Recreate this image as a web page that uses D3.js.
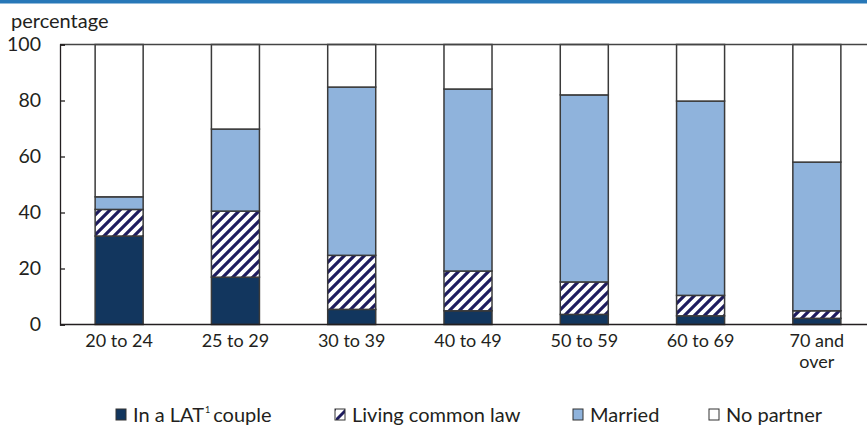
<!DOCTYPE html>
<html>
<head>
<meta charset="utf-8">
<script src="https://cdn.jsdelivr.net/npm/d3@7/dist/d3.min.js"></script>
<style>
  html, body { margin: 0; padding: 0; background: #fff; }
  svg { display: block; }
  text { font-family: Lato, "Open Sans", sans-serif; fill: #231f20; }
</style>
</head>
<body>
<svg id="chart" width="867" height="430"></svg>
<script>
const categories = ["20 to 24", "25 to 29", "30 to 39", "40 to 49", "50 to 59", "60 to 69", "70 and\nover"];
const seriesNames = ["In a LAT couple", "Living common law", "Married", "No partner"];
const lat        = [31.6, 16.9, 5.4, 4.9, 3.6, 3.1, 2.2];
const commonLaw  = [9.5, 23.6, 19.3, 14.2, 11.6, 7.3, 2.7];
const married    = [4.5, 29.3, 60.1, 65.0, 66.8, 69.4, 53.1];
const noPartner  = [54.4, 30.2, 15.2, 15.9, 18.0, 20.2, 42.0];
const yTicks = [0, 20, 40, 60, 80, 100];

const svg = d3.select("#chart");

// defs: hatch pattern
const defs = svg.append("defs");
const pat = defs.append("pattern")
  .attr("id", "hatch").attr("patternUnits", "userSpaceOnUse")
  .attr("width", 10).attr("height", 10);
pat.append("rect").attr("width", 10).attr("height", 10).attr("fill", "#fff");
pat.append("path")
  .attr("d", "M-2,12 L12,-2 M-2,2 L2,-2 M8,12 L12,8")
  .attr("stroke", "#1e1c5e").attr("stroke-width", 3.2);

const legPat = defs.append("pattern")
  .attr("id", "hatchLeg").attr("patternUnits", "userSpaceOnUse")
  .attr("width", 12).attr("height", 12);
legPat.append("rect").attr("width", 12).attr("height", 12).attr("fill", "#fff");
legPat.append("path").attr("d", "M-1,13 L13,-1").attr("stroke", "#1e1c5e").attr("stroke-width", 3);

// top blue rule
svg.append("rect").attr("x", 0).attr("y", 0).attr("width", 867).attr("height", 3.5).attr("fill", "#2878b8");

const x = d3.scaleBand().domain(categories).range([61, 875]).paddingInner(0.587).paddingOuter(0.2935).align(0.5);
const y = d3.scaleLinear().domain([0, 100]).range([324.5, 44.5]);

const fills = ["#12365e", "url(#hatch)", "#8fb3dc", "#ffffff"];
const data = categories.map((c, i) => ({ cat: c, vals: [lat[i], commonLaw[i], married[i], noPartner[i]] }));
const stack = d3.stack().keys([0, 1, 2, 3]).value((d, k) => d.vals[k]);
const layers = stack(data);

const g = svg.append("g");
layers.forEach((layer, k) => {
  g.selectAll(null).data(layer).enter().append("rect")
    .attr("x", d => x(d.data.cat))
    .attr("width", x.bandwidth())
    .attr("y", d => y(Math.min(d[1], 100)))
    .attr("height", d => y(d[0]) - y(Math.min(d[1], 100)))
    .attr("fill", fills[k])
    .attr("stroke", "#3a3a3a")
    .attr("stroke-width", 1.5);
});

// top line at 100
svg.append("line").attr("x1", 60).attr("x2", 867).attr("y1", y(100)).attr("y2", y(100))
  .attr("stroke", "#444").attr("stroke-width", 1.5);

// Y axis
const yAxis = d3.axisLeft(y).tickValues(yTicks).tickSize(-5).tickPadding(19).tickFormat(d3.format("d"));
const ya = svg.append("g").attr("transform", "translate(60,0)").call(yAxis);
ya.select(".domain").attr("stroke", "#231f20").attr("stroke-width", 1.3);
ya.selectAll(".tick line").attr("stroke", "#231f20").attr("stroke-width", 1.3);
ya.selectAll(".tick text").attr("font-size", 19.5).attr("fill", "#231f20")
  .style("font-family", "Lato, 'Open Sans', sans-serif");

// X baseline
svg.append("line").attr("x1", 60).attr("x2", 867).attr("y1", y(0)).attr("y2", y(0))
  .attr("stroke", "#231f20").attr("stroke-width", 1.3);

// X labels
const xl = svg.append("g");
categories.forEach(c => {
  const lines = c.split("\n");
  lines.forEach((ln, i) => {
    xl.append("text")
      .attr("x", x(c) + x.bandwidth() / 2)
      .attr("y", 347 + i * 20.5)
      .attr("text-anchor", "middle")
      .attr("font-size", 18)
      .text(ln);
  });
});

// y title
svg.append("text").attr("x", 11).attr("y", 28).attr("font-size", 20).text("percentage");

// Legend
const legX = [116, 335, 573, 709];
const legFills = ["#12365e", "url(#hatchLeg)", "#8fb3dc", "#ffffff"];
const leg = svg.append("g");
seriesNames.forEach((s, i) => {
  leg.append("rect").attr("x", legX[i]).attr("y", 409).attr("width", 10).attr("height", 11)
    .attr("fill", legFills[i]).attr("stroke", "#333").attr("stroke-width", 1);
  const t = leg.append("text").attr("x", legX[i] + 17).attr("y", 422).attr("font-size", 20);
  if (i === 0) {
    t.append("tspan").text("In a LAT");
    t.append("tspan").attr("font-size", 9).attr("dy", -9).attr("dx", 1).text("1");
    t.append("tspan").attr("dy", 9).attr("dx", 3).text("couple");
  } else {
    t.text(s);
  }
});
</script>
</body>
</html>
